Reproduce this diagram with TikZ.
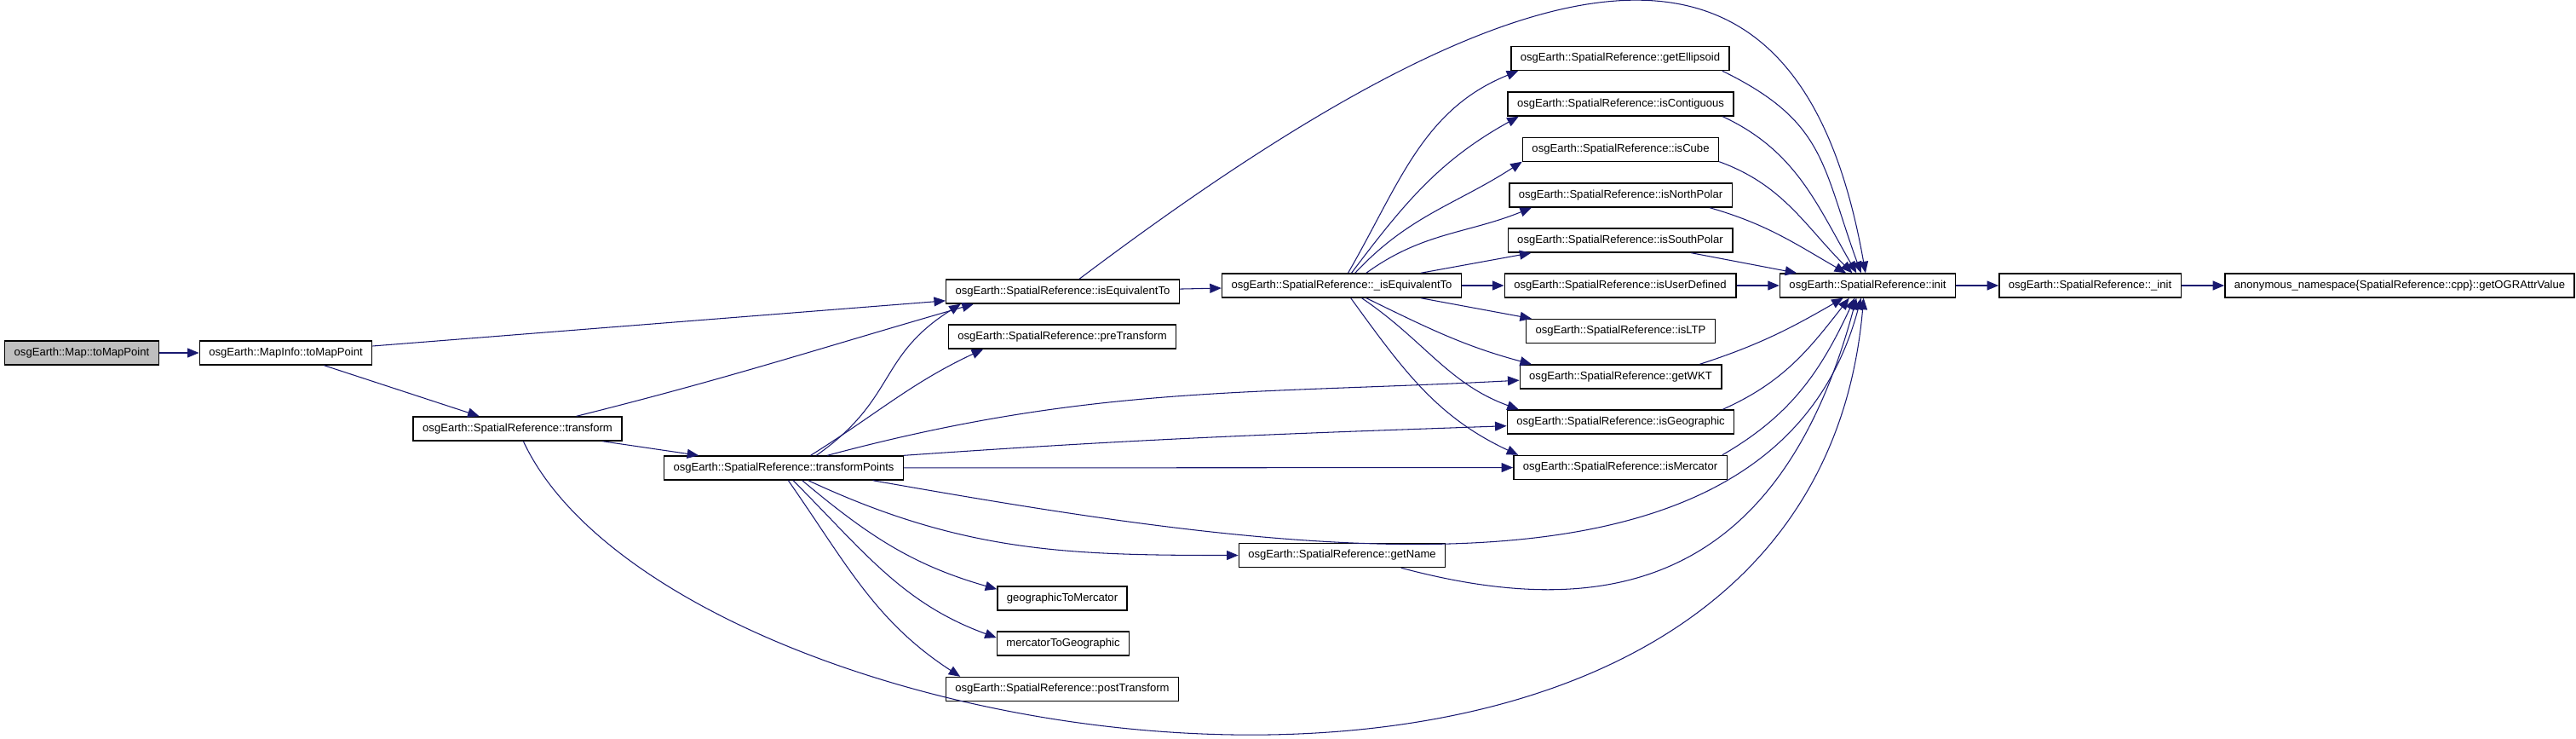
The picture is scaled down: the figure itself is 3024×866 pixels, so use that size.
\documentclass[tikz,border=0pt]{standalone}
\usepackage{fontspec}
\setmainfont{Liberation Sans}
\usetikzlibrary{arrows.meta, positioning}
\definecolor{edgeblue}{RGB}{25,25,112}
\definecolor{rootgray}{RGB}{191,191,191}

\begin{document}
\begin{tikzpicture}[
    x=0.02cm, y=-0.02cm,
    box/.style = {
        rectangle,
        draw=black,
        line width=0.8pt,
        minimum height=0.56cm,
        inner xsep=0.22cm,
        inner ysep=0pt,
        text centered,
        font=\fontsize{7.45}{9}\selectfont
    },
    root/.style = {box, fill=rootgray},
    arrow/.style = {edgeblue, line width=0.6pt, -{Triangle[length=0.27cm, width=0.22cm]}}
]
    \useasboundingbox (0,0) rectangle (3024,866);

    % === CALLERS ===
    \node[root] (mapPt) at (96,414) {osgEarth::Map::toMapPoint};
    \node[box] (infoPt) at (335.5,414) {osgEarth::MapInfo::toMapPoint};
    \node[box] (xform) at (607.5,503) {osgEarth::SpatialReference::transform};
    \node[box] (xformPts) at (920,549) {osgEarth::SpatialReference::transformPoints};

    % === SECOND COLUMN ===
    \node[box] (isEq) at (1247.5,342) {osgEarth::SpatialReference::isEquivalentTo};
    \node[box] (preXf) at (1247,395) {osgEarth::SpatialReference::preTransform};
    \node[box] (geoMerc) at (1247,702) {geographicToMercator};
    \node[box] (mercGeo) at (1248,755) {mercatorToGeographic};
    \node[box] (postXf) at (1247,808.5) {osgEarth::SpatialReference::postTransform};

    \node[box] (isEqInt) at (1575,335) {osgEarth::SpatialReference::\_isEquivalentTo};
    \node[box] (getName) at (1575.5,651.5) {osgEarth::SpatialReference::getName};

    % === QUERY FUNCTIONS ===
    \node[box] (getEll) at (1902,68.5) {osgEarth::SpatialReference::getEllipsoid};
    \node[box] (isContig) at (1902.5,122) {osgEarth::SpatialReference::isContiguous};
    \node[box] (isCube) at (1902.5,175.5) {osgEarth::SpatialReference::isCube};
    \node[box] (isNPolar) at (1902.5,229) {osgEarth::SpatialReference::isNorthPolar};
    \node[box] (isSPolar) at (1902,282) {osgEarth::SpatialReference::isSouthPolar};
    \node[box] (isUser) at (1902,335) {osgEarth::SpatialReference::isUserDefined};
    \node[box] (isLTP) at (1902.5,388.5) {osgEarth::SpatialReference::isLTP};
    \node[box] (getWKT) at (1902.5,442) {osgEarth::SpatialReference::getWKT};
    \node[box] (isGeo) at (1902.5,495) {osgEarth::SpatialReference::isGeographic};
    \node[box] (isMerc) at (1902,548.5) {osgEarth::SpatialReference::isMercator};

    % === INIT CHAIN ===
    \node[box] (init) at (2192.5,335) {osgEarth::SpatialReference::init};
    \node[box] (initInt) at (2453.5,335) {osgEarth::SpatialReference::\_init};
    \node[box] (getOGR) at (2817,335) {anonymous\_namespace\{SpatialReference::cpp\}::getOGRAttrValue};

    % === MAIN CALLS ===
    \draw[arrow] (mapPt) -- (infoPt);
    \draw[arrow] (infoPt) -- (isEq);
    \draw[arrow] (infoPt) -- (xform);
    \draw[arrow] (xform) -- (xformPts);
    \draw[arrow] (xform.12) to[out=14, in=196] (isEq.188);
    \draw[arrow] (xform.-65) to[out=-65, in=265, out distance=8.4cm, in distance=15.2cm] (init.-108);

    % === TRANSFORMPOINTS CALLS ===
    \draw[arrow] (xformPts.21) to[out=35, in=212, looseness=1.2] (isEq.187);
    \draw[arrow] (xformPts.25) to[out=32, in=205] (preXf.189);
    \draw[arrow] (xformPts.16) to[out=15, in=183] (getWKT.182);
    \draw[arrow] (xformPts.north east) to[out=4, in=182] (isGeo.182);
    \draw[arrow] (xformPts) -- (isMerc);
    \draw[arrow] (xformPts.-8.6) to[out=-10, in=255, out distance=10cm, in distance=8cm] (init.-118);
    \draw[arrow] (xformPts.-27) to[out=-25, in=180] (getName);
    \draw[arrow] (xformPts.-34) to[out=-40, in=164] (geoMerc.172);
    \draw[arrow] (xformPts.-53) to[out=-45, in=160] (mercGeo.175);
    \draw[arrow] (xformPts.-70) to[out=-55, in=147] (postXf.173);

    % === EQUIVALENCE CHECKS ===
    \draw[arrow] (isEq) -- (isEqInt);
    \draw[arrow] (isEq.37) to[out=37, in=100, out distance=14.3cm, in distance=8.7cm] (init.100);
    \draw[arrow] (isEqInt.63) to[out=60, in=202] (getEll.187);
    \draw[arrow] (isEqInt.52) to[out=53, in=209] (isContig.187);
    \draw[arrow] (isEqInt.43) to[out=47, in=213] (isCube.187);
    \draw[arrow] (isEqInt.27) to[out=36, in=202] (isNPolar.188);
    \draw[arrow] (isEqInt.9) -- (isSPolar.188);
    \draw[arrow] (isEqInt) -- (isUser);
    \draw[arrow] (isEqInt.-9) -- (isLTP.172);
    \draw[arrow] (isEqInt.-27) to[out=-26, in=165] (getWKT.172);
    \draw[arrow] (isEqInt.-32) to[out=-34, in=160] (isGeo.173);
    \draw[arrow] (isEqInt.-54) to[out=-54, in=155] (isMerc.173);

    % === INTO INIT ===
    \draw[arrow] (getEll.-7) to[out=-26, in=110, looseness=1.2] (init.118);
    \draw[arrow] (isContig.-7) to[out=-25, in=120] (init.132);
    \draw[arrow] (isCube.-7.5) to[out=-20, in=135] (init.141);
    \draw[arrow] (isNPolar.-8.6) to[out=-16, in=150] (init.150);
    \draw[arrow] (isSPolar.-10) -- (init.170);
    \draw[arrow] (isUser) -- (init);
    \draw[arrow] (getWKT.9) to[out=18, in=210] (init.-153);
    \draw[arrow] (isGeo.7.6) to[out=24, in=232] (init.-146);
    \draw[arrow] (isMerc.7.5) to[out=30, in=245] (init.-136);
    \draw[arrow] (getName.-12) to[out=-15, in=255, out distance=5cm, in distance=7cm] (init.-132);
    \draw[arrow] (init) -- (initInt);
    \draw[arrow] (initInt) -- (getOGR);

\end{tikzpicture}
\end{document}
